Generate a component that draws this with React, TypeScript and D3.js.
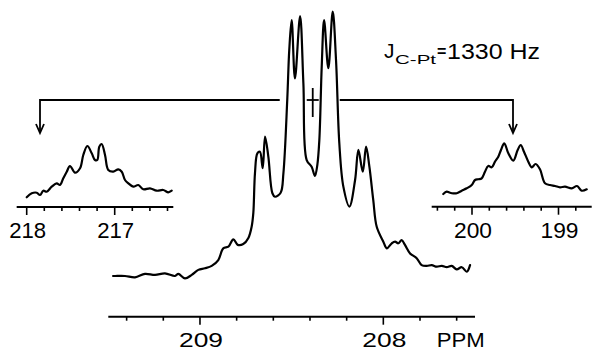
import React from "react";
import * as d3 from "d3";

// main carbonyl region (ppm, intensity a.u.)
const MAIN_PPM = [
  209.474, 209.463, 209.409, 209.354, 209.3, 209.245, 209.191, 209.136, 209.118, 209.082,
  209.045, 209.009, 208.973, 208.936, 208.9, 208.873, 208.845, 208.818, 208.794, 208.764,
  208.736, 208.718, 208.709, 208.7, 208.687, 208.673, 208.658, 208.645, 208.627, 208.605,
  208.591, 208.56, 208.545, 208.524, 208.513, 208.5, 208.482, 208.454, 208.436, 208.418,
  208.391, 208.373, 208.36, 208.349, 208.336, 208.323, 208.3, 208.276, 208.258, 208.24,
  208.218, 208.185, 208.154, 208.136, 208.112, 208.094, 208.076, 208.055, 208.036, 208.0,
  207.981, 207.954, 207.936, 207.918, 207.9, 207.882, 207.854, 207.818, 207.791, 207.763,
  207.736, 207.709, 207.681, 207.654, 207.627, 207.6, 207.572, 207.545, 207.527,
];
const MAIN_INT = [
  0.0, 0.0, 0.0, -0.5, 0.8, 0.4, 1.0, 0.0, 0.8, -0.9,
  0.4, 2.3, 2.9, 3.8, 6.0, 10.4, 11.0, 13.8, 11.7, 12.0,
  14.3, 18.6, 23.7, 38.7, 46.1, 46.7, 40.5, 52.4, 44.8, 31.1,
  29.8, 31.3, 38.6, 66.2, 85.0, 96.2, 74.3, 97.7, 72.4, 43.6,
  41.1, 37.6, 41.7, 51.1, 78.7, 96.2, 78.1, 99.4, 81.2, 49.9,
  33.6, 26.1, 36.1, 47.4, 39.2, 48.6, 41.1, 28.6, 18.5, 12.9,
  10.4, 12.3, 12.9, 12.3, 13.5, 11.7, 8.5, 6.7, 4.1, 3.8,
  4.1, 3.5, 3.8, 3.3, 3.8, 2.5, 3.3, 1.6, 4.1,
];

// low-field 195Pt satellite
const LEFT_PPM = [
  218.0, 217.943, 217.886, 217.849, 217.811, 217.773, 217.716, 217.659, 217.622, 217.584,
  217.545, 217.508, 217.451, 217.394, 217.357, 217.311, 217.261, 217.224, 217.198, 217.175,
  217.148, 217.11, 217.073, 217.016, 216.959, 216.92, 216.883, 216.845, 216.789, 216.732,
  216.675, 216.599, 216.523, 216.448, 216.391, 216.352,
];
const LEFT_INT = [
  -4.6, 3.4, 4.6, 0, 8.6, 6.6, 16.6, 23.4, 20, 33.4,
  46.6, 58, 44.6, 53.4, 80, 98, 83.4, 70, 70, 96.6,
  102, 80, 50, 46.6, 51.4, 46.6, 30, 23.4, 16.6, 20,
  11.4, 13.4, 8.6, 10, 5.4, 8.6,
];

// high-field 195Pt satellite
const RIGHT_PPM = [
  200.332, 200.292, 200.254, 200.216, 200.177, 200.119, 200.061, 200.003, 199.965, 199.927,
  199.888, 199.85, 199.812, 199.772, 199.734, 199.696, 199.665, 199.627, 199.58, 199.523,
  199.472, 199.437, 199.399, 199.349, 199.31, 199.264, 199.214, 199.156, 199.098, 199.04,
  198.983, 198.925, 198.847, 198.786, 198.732, 198.674,
];
const RIGHT_INT = [
  2, 6.6, 4.6, 3.4, 3.4, 8.6, 13.4, 20, 30, 31.4,
  33.4, 46.6, 58, 55.4, 66.6, 76.6, 90, 103.4, 83.4, 68.6,
  90, 100, 86.6, 66.6, 55.4, 62, 51.4, 23.4, 20, 18,
  15.4, 16.6, 13.4, 18, 8.6, 11.4,
];

const MAIN_TICKS = [209.4, 209.2, 209.0, 208.8, 208.6, 208.4, 208.2, 208.0, 207.8, 207.6];
const MAIN_LABELS = [209, 208];
const LEFT_TICKS = [218.0, 217.8, 217.6, 217.4, 217.2, 217.0, 216.8, 216.6, 216.4];
const LEFT_LABELS = [218, 217];
const RIGHT_TICKS = [200.4, 200.2, 200.0, 199.8, 199.6, 199.4, 199.2, 199.0, 198.8];
const RIGHT_LABELS = [200, 199];

const W = 594;
const H = 352;
const FONT = "'Liberation Sans', Arial, sans-serif";

type Pt = [number, number];
const zip = (a: number[], b: number[]): Pt[] => a.map((v, i) => [v, b[i]]);

function Axis({ x, y, ticks, labels, from, to, labelY, labelW, size }: any) {
  return (
    <g>
      <line x1={x(from)} x2={x(to)} y1={y} y2={y} stroke="#000" strokeWidth={2} />
      {ticks.map((t: number) => {
        const major = labels.some((l: number) => Math.abs(l - t) < 1e-6);
        return (
          <line key={t} x1={x(t)} x2={x(t)} y1={y} y2={y + (major ? 8 : 4)} stroke="#000" strokeWidth={1.6} />
        );
      })}
      {labels.map((l: number) => (
        <text
          key={l}
          x={x(l) + 1}
          y={labelY}
          textAnchor="middle"
          fontSize={size}
          fontFamily={FONT}
          textLength={labelW}
          lengthAdjust="spacingAndGlyphs"
        >
          {l}
        </text>
      ))}
    </g>
  );
}

export default function App() {
  // scales
  const xMain = d3.scaleLinear().domain([209.5, 207.5]).range([108.3, 475]);
  const yMain = d3.scaleLinear().domain([0, 100]).range([276, 10]);
  const xLeft = d3.scaleLinear().domain([218, 217]).range([26.7, 114.7]);
  const xRight = d3.scaleLinear().domain([200, 199]).range([472, 558.5]);
  const yInset = d3.scaleLinear().domain([0, 100]).range([195, 145]);

  const curve = d3.curveCatmullRom.alpha(0.5);
  const mainLine = d3.line<Pt>().x((d) => xMain(d[0])).y((d) => yMain(d[1])).curve(curve);
  const leftLine = d3.line<Pt>().x((d) => xLeft(d[0])).y((d) => yInset(d[1])).curve(curve);
  const rightLine = d3.line<Pt>().x((d) => xRight(d[0])).y((d) => yInset(d[1])).curve(curve);

  const centre = xMain(208.385);
  const bracketY = 100;
  const leftArrowX = 40;
  const rightArrowX = 513;

  return (
    <svg width={W} height={H} style={{ position: "absolute", left: 0, top: 0, background: "#fff" }}>
      <g fill="none" stroke="#000" strokeWidth={2.2} strokeLinejoin="round" strokeLinecap="round">
        <path d={mainLine(zip(MAIN_PPM, MAIN_INT)) || ""} />
        <path d={leftLine(zip(LEFT_PPM, LEFT_INT)) || ""} />
        <path d={rightLine(zip(RIGHT_PPM, RIGHT_INT)) || ""} />
      </g>

      {/* satellite pointers */}
      <g fill="none" stroke="#000" strokeWidth={1.8}>
        <polyline points={`${centre - 33},${bracketY} ${leftArrowX},${bracketY} ${leftArrowX},${bracketY + 32}`} />
        <polyline points={`${leftArrowX - 4},${bracketY + 24} ${leftArrowX},${bracketY + 33} ${leftArrowX + 4},${bracketY + 24}`} />
        <polyline points={`${centre + 27},${bracketY} ${rightArrowX},${bracketY} ${rightArrowX},${bracketY + 32}`} />
        <polyline points={`${rightArrowX - 4},${bracketY + 24} ${rightArrowX},${bracketY + 33} ${rightArrowX + 4},${bracketY + 24}`} />
        <line x1={centre} x2={centre} y1={bracketY - 12} y2={bracketY + 17} />
        <line x1={centre - 6} x2={centre + 6} y1={bracketY} y2={bracketY} />
      </g>

      <Axis x={xMain} y={316.7} ticks={MAIN_TICKS} labels={MAIN_LABELS} from={209.5} to={207.5} labelY={347} labelW={44} size={21} />
      <Axis x={xLeft} y={207} ticks={LEFT_TICKS} labels={LEFT_LABELS} from={218.114} to={216.334} labelY={238} labelW={37} size={22} />
      <Axis x={xRight} y={206.7} ticks={RIGHT_TICKS} labels={RIGHT_LABELS} from={200.466} to={198.616} labelY={238} labelW={38} size={22} />

      <text x={436.7} y={347} fontSize={21} fontFamily={FONT} textLength={48} lengthAdjust="spacingAndGlyphs">
        PPM
      </text>

      <g fontFamily={FONT}>
        <text x={384} y={58} fontSize={21}>J</text>
        <text x={395} y={64} fontSize={13} textLength={41} lengthAdjust="spacingAndGlyphs">C-Pt</text>
        <text x={437} y={57} fontSize={16} fontWeight="bold">=</text>
        <text x={447} y={59} fontSize={22} textLength={93} lengthAdjust="spacingAndGlyphs">1330 Hz</text>
      </g>
    </svg>
  );
}
